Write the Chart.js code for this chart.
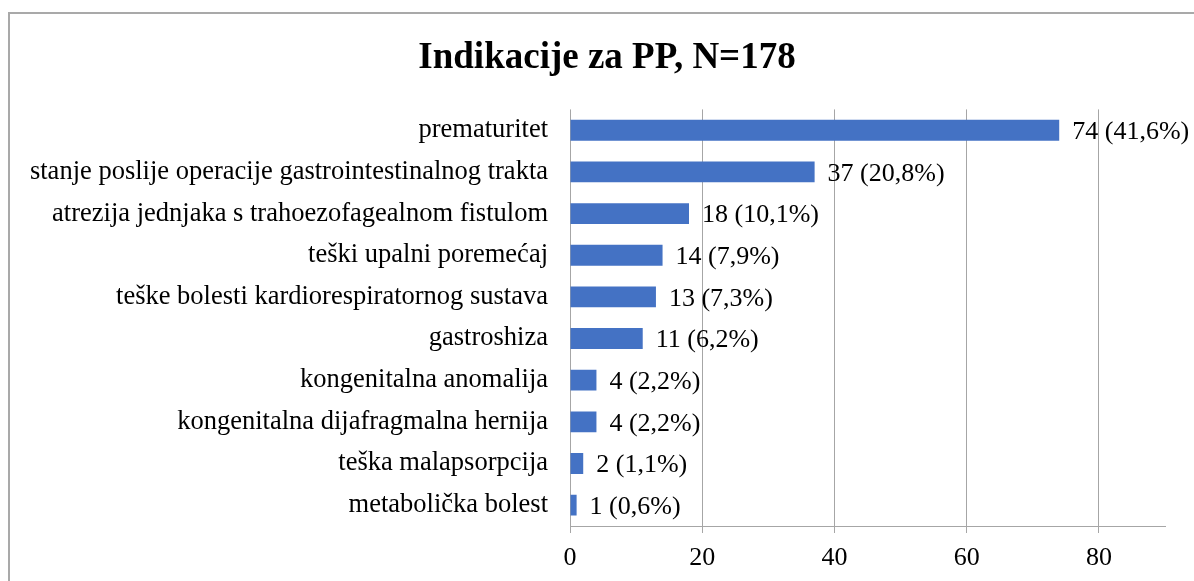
<!DOCTYPE html>
<html>
<head>
<meta charset="utf-8">
<script src="https://cdn.jsdelivr.net/npm/chart.js@4/dist/chart.umd.min.js"></script>
<style>
html,body{margin:0;padding:0;background:#fff;}
#wrap{position:relative;width:1194px;height:581px;}
</style>
</head>
<body>
<div id="wrap"><canvas id="c" width="1194" height="581"></canvas></div>
<script>
const categories = [
  "prematuritet",
  "stanje poslije operacije gastrointestinalnog trakta",
  "atrezija jednjaka s trahoezofagealnom fistulom",
  "teški upalni poremećaj",
  "teške bolesti kardiorespiratornog sustava",
  "gastroshiza",
  "kongenitalna anomalija",
  "kongenitalna dijafragmalna hernija",
  "teška malapsorpcija",
  "metabolička bolest"
];
const counts = [74, 37, 18, 14, 13, 11, 4, 4, 2, 1];
const percents = ["41,6%", "20,8%", "10,1%", "7,9%", "7,3%", "6,2%", "2,2%", "2,2%", "1,1%", "0,6%"];
const xTicks = [0, 20, 40, 60, 80];
const titleText = "Indikacije za PP, N=178";

const FONT = '"Liberation Serif", "Times New Roman", serif';

const framePlugin = {
  id: 'frame',
  beforeDraw(chart) {
    const ctx = chart.ctx;
    ctx.save();
    ctx.fillStyle = '#ffffff';
    ctx.fillRect(0, 0, chart.width, chart.height);
    ctx.strokeStyle = '#a9a9a9';
    ctx.lineWidth = 2;
    ctx.beginPath();
    ctx.moveTo(9, chart.height);
    ctx.lineTo(9, 13);
    ctx.lineTo(chart.width, 13);
    ctx.stroke();
    ctx.restore();
  }
};

const labelPlugin = {
  id: 'valueLabels',
  afterDatasetsDraw(chart) {
    const ctx = chart.ctx;
    const meta = chart.getDatasetMeta(0);
    ctx.save();
    ctx.font = '26px ' + FONT;
    ctx.fillStyle = '#000';
    ctx.textAlign = 'left';
    ctx.textBaseline = 'middle';
    meta.data.forEach((bar, i) => {
      const txt = counts[i] + ' (' + percents[i] + ')';
      ctx.fillText(txt, bar.x + 13, bar.y + 2);
    });
    ctx.restore();
  }
};

new Chart(document.getElementById('c'), {
  type: 'bar',
  data: {
    labels: categories,
    datasets: [{
      data: counts,
      backgroundColor: '#4472C4',
      borderWidth: 0,
      categoryPercentage: 1.0,
      barPercentage: 0.5
    }]
  },
  options: {
    indexAxis: 'y',
    responsive: false,
    animation: false,
    devicePixelRatio: 1,
    layout: { padding: { left: 20, right: 0, top: 0, bottom: 0 } },
    plugins: {
      legend: { display: false },
      tooltip: { enabled: false },
      title: {
        display: true,
        text: titleText,
        color: '#000',
        font: { family: FONT, size: 37, weight: 'bold' },
        padding: { top: 36, bottom: 29 }
      }
    },
    scales: {
      x: {
        min: 0,
        max: 90,
        afterBuildTicks(scale) {
          scale.ticks = xTicks.map(v => ({ value: v }));
        },
        afterFit(scale) { scale.height = 55; },
        grid: {
          color: '#a6a6a6',
          lineWidth: 1,
          drawTicks: true,
          tickLength: 7,
          tickColor: '#a6a6a6'
        },
        border: { display: true, color: '#a6a6a6', width: 1 },
        ticks: {
          color: '#000',
          font: { family: FONT, size: 26 },
          padding: 10,
          maxRotation: 0
        }
      },
      y: {
        afterFit(scale) { scale.width = 550; },
        grid: { display: false },
        border: { display: false },
        ticks: {
          color: '#000',
          font: { family: FONT, size: 26.5 },
          padding: 14,
          autoSkip: false
        }
      },
      yRight: {
        type: 'category',
        position: 'right',
        labels: categories,
        afterFit(scale) { scale.width = 29; },
        grid: { display: false, drawTicks: false },
        border: { display: false },
        ticks: { display: false }
      }
    }
  },
  plugins: [framePlugin, labelPlugin]
});
</script>
</body>
</html>
